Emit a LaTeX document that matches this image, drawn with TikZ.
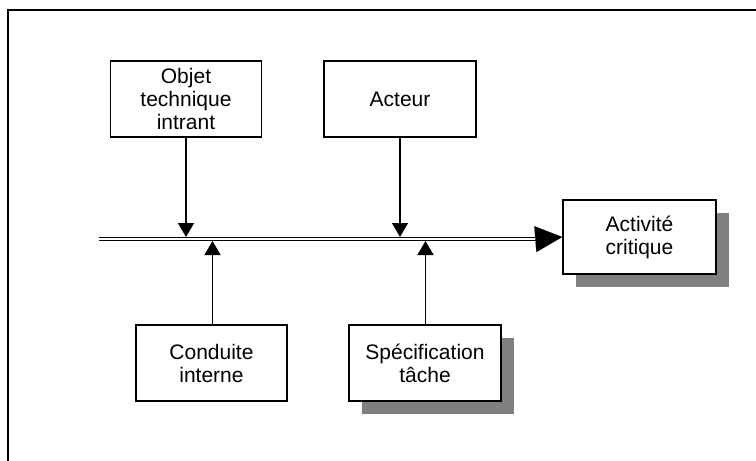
\documentclass[tikz,border=0pt]{standalone}
\usepackage{fontspec}
\setmainfont{Liberation Sans}
\usetikzlibrary{arrows.meta,shadows}
\tikzset{
  box/.style={draw=black, line width=1.5pt, fill=white, align=center,
    inner sep=0pt, minimum width=151pt, minimum height=76pt,
    font=\fontsize{21pt}{23pt}\selectfont},
  shadowed/.style={drop shadow={shadow xshift=13pt, shadow yshift=-13pt,
    fill=black!50, opacity=1}},
  feed/.style={line width=1.5pt, -{Triangle[length=14pt,width=16pt]}},
  flow/.style={double, double distance=2pt, line width=1.1pt, draw=black},
  bigtip/.style={-{Triangle[length=27pt,width=26pt]}, line width=0.1pt}
}
\begin{document}
\begin{tikzpicture}[x=1pt,y=-1pt]
  \useasboundingbox (0,0) rectangle (756,461);
  % outer frame
  \draw[line width=2.4pt] (8,461) -- (8,10) -- (756,10);

  % boxes
  \node[box] (obj) at (186,99) {Objet\\technique\\intrant};
  \node[box, minimum width=152pt] (act) at (400,99) {Acteur};
  \node[box, shadowed, minimum width=153pt, minimum height=74pt] (crit) at (639.5,237) {Activité\\critique};
  \node[box] (cond) at (211.5,363) {Conduite\\interne};
  \node[box, shadowed, minimum width=152pt] (spec) at (425,363) {Spécification\\tâche};

  % main flow line
  \coordinate (start) at (99,239);
  \coordinate (tipbase) at (537,239);
  \draw[flow] (start) -- (tipbase);
  \draw[bigtip] (tipbase) -- (crit.west);

  % arrows onto the flow line
  \coordinate (objin) at (186,237);
  \coordinate (actin) at (400,237);
  \coordinate (condin) at (212.5,241);
  \coordinate (specin) at (425.5,241);
  \draw[feed] (obj.south) -- (objin);
  \draw[feed] (act.south) -- (actin);
  \draw[feed] (cond.north -| condin) -- (condin);
  \draw[feed] (spec.north -| specin) -- (specin);
\end{tikzpicture}
\end{document}
